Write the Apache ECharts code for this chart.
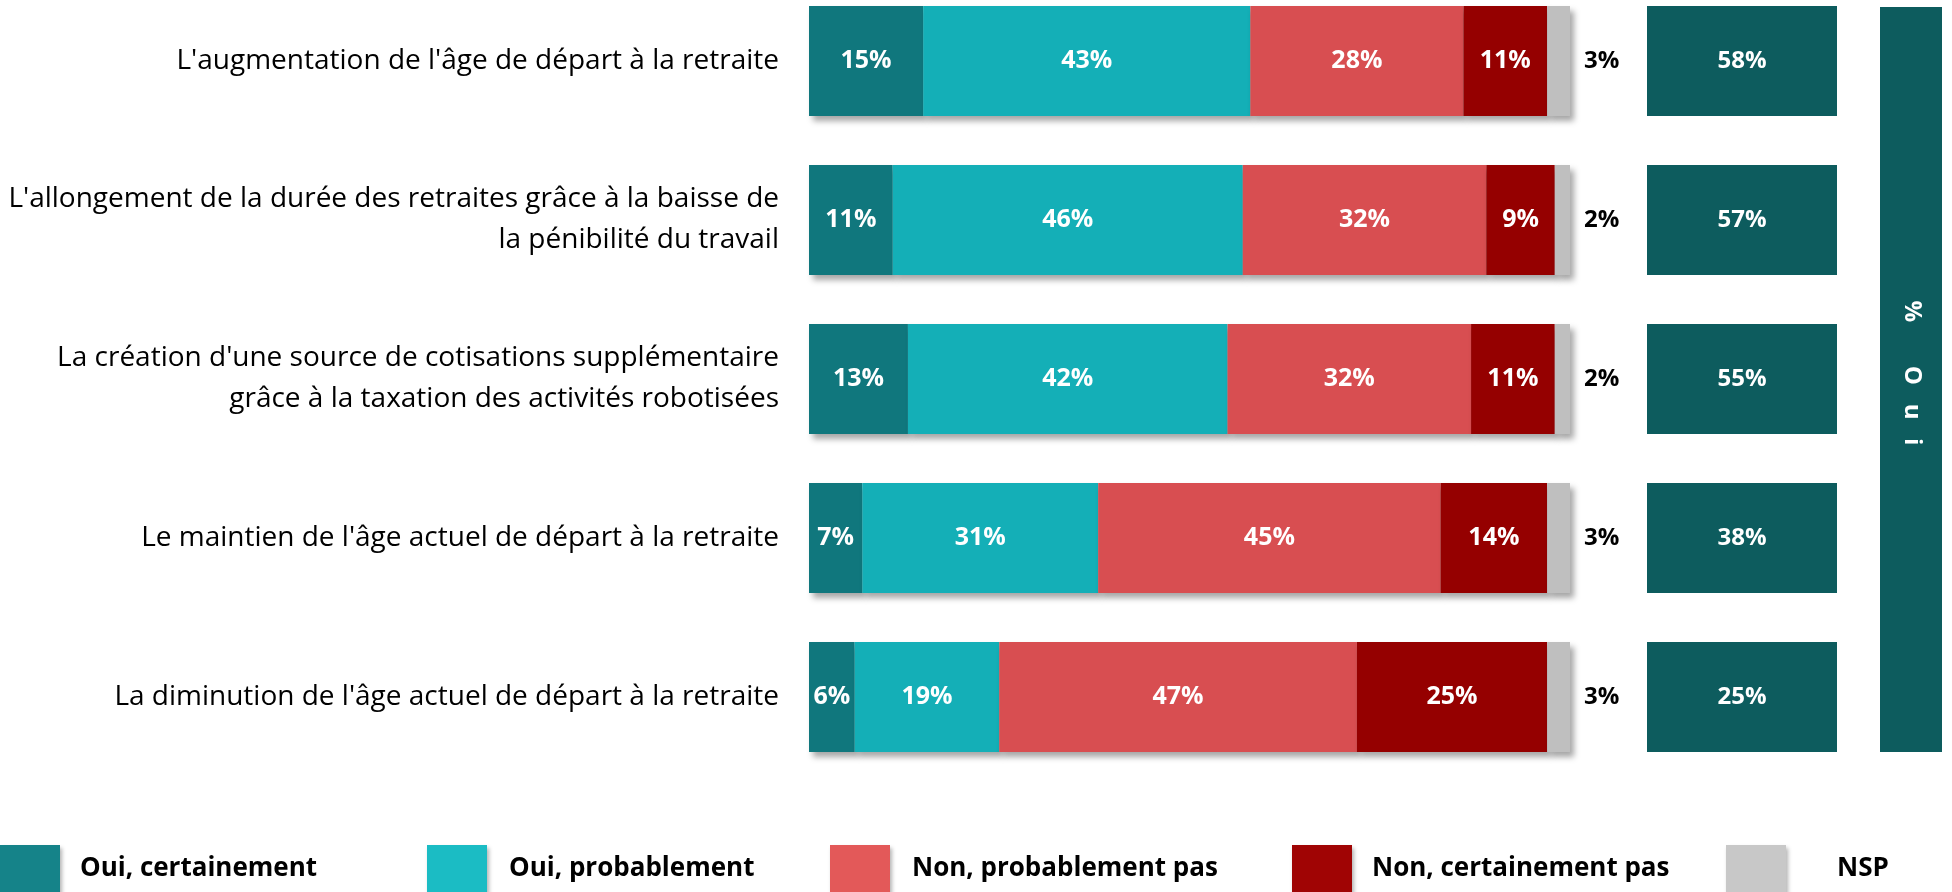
<!DOCTYPE html>
<html>
<head>
<meta charset="utf-8">
<title>Retraites</title>
<script src="https://cdn.jsdelivr.net/npm/echarts@6/dist/echarts.min.js"></script>
<style>
  html, body { margin: 0; padding: 0; background: #fff; }
  #chart { width: 1952px; height: 892px; }
</style>
</head>
<body>
<div id="chart"></div>
<script>
const categories = [
  "L'augmentation de l'âge de départ à la retraite",
  "L'allongement de la durée des retraites grâce à la baisse de\nla pénibilité du travail",
  "La création d'une source de cotisations supplémentaire\ngrâce à la taxation des activités robotisées",
  "Le maintien de l'âge actuel de départ à la retraite",
  "La diminution de l'âge actuel de départ à la retraite"
]

const ouiCertainement = [15, 11, 13, 7, 6]
const ouiProbablement = [43, 46, 42, 31, 19]
const nonProbablement = [28, 32, 32, 45, 47]
const nonCertainement = [11, 9, 11, 14, 25]
const nsp = [3, 2, 2, 3, 3]
const ouiTotal = [58, 57, 55, 38, 25]

const seriesNames = ['Oui, certainement', 'Oui, probablement', 'Non, probablement pas', 'Non, certainement pas', 'NSP']
const barColors = ['#10777d', '#14afb7', '#d84e51', '#950000', '#bfbfbf']
const legendColors = ['#158389', '#1bbcc4', '#e35959', '#a00404', '#c8c8c8']
const legendLeft = [0, 427, 830, 1292, 1726]
const legendTextPad = [15, 17, 17, 15, 46]

const FONT = 'Open Sans'
const dark = '#0d5c5e'

const chart = echarts.init(document.getElementById('chart'))

const barShadow = {
  shadowBlur: 6,
  shadowColor: 'rgba(0,0,0,0.35)',
  shadowOffsetX: 4,
  shadowOffsetY: 5
}

const stackSeries = [ouiCertainement, ouiProbablement, nonProbablement, nonCertainement, nsp].map((values, i) => {
  const isNsp = i === 4
  return {
    name: seriesNames[i],
    type: 'bar',
    stack: 'total',
    xAxisIndex: 0,
    yAxisIndex: 0,
    barWidth: 110,
    data: values,
    itemStyle: Object.assign({ color: barColors[i] }, barShadow),
    label: isNsp ? {
      show: true,
      position: 'right',
      distance: 14,
      formatter: '{c}%',
      color: '#000',
      fontFamily: FONT,
      fontWeight: 'bold',
      fontSize: 24
    } : {
      show: true,
      position: 'inside',
      formatter: '{c}%',
      color: '#fff',
      fontFamily: FONT,
      fontWeight: 'bold',
      fontSize: 25
    },
    emphasis: { disabled: true },
    animation: false
  }
})

const legends = seriesNames.map((name, i) => ({
  data: [{ name: name, itemStyle: { color: legendColors[i] } }],
  left: legendLeft[i],
  top: 845,
  padding: 0,
  itemWidth: 60,
  itemHeight: 48,
  icon: 'rect',
  itemStyle: { shadowBlur: 4, shadowColor: 'rgba(0,0,0,0.3)', shadowOffsetX: 2, shadowOffsetY: 3 },
  textStyle: {
    color: '#000',
    fontFamily: FONT,
    fontWeight: 'bold',
    fontSize: 26,
    padding: [0, 0, 0, legendTextPad[i]]
  }
}))

chart.setOption({
  backgroundColor: '#fff',
  animation: false,
  legend: legends,
  grid: [
    { left: 809, right: 382, top: 61, bottom: 195 },
    { left: 1647, right: 115, top: 61, bottom: 195 }
  ],
  xAxis: [
    { type: 'value', gridIndex: 0, min: 0, max: 100, show: false },
    { type: 'value', gridIndex: 1, min: 0, max: 100, show: false }
  ],
  yAxis: [
    {
      type: 'category',
      gridIndex: 0,
      data: categories,
      inverse: true,
      boundaryGap: false,
      axisLine: { show: false },
      axisTick: { show: false },
      splitLine: { show: false },
      axisLabel: {
        margin: 30,
        color: '#000',
        fontFamily: FONT,
        fontSize: 28,
        lineHeight: 41
      }
    },
    {
      type: 'category',
      gridIndex: 1,
      data: categories,
      inverse: true,
      boundaryGap: false,
      show: false
    }
  ],
  series: stackSeries.concat([{
    name: 'Oui total',
    type: 'bar',
    xAxisIndex: 1,
    yAxisIndex: 1,
    barWidth: 110,
    data: ouiTotal,
    itemStyle: { color: 'rgba(0,0,0,0)' },
    showBackground: true,
    backgroundStyle: { color: dark },
    label: {
      show: true,
      position: [95, 55],
      align: 'center',
      verticalAlign: 'middle',
      formatter: '{c}%',
      color: '#fff',
      fontFamily: FONT,
      fontWeight: 'bold',
      fontSize: 24
    },
    emphasis: { disabled: true },
    animation: false
  }]),
  graphic: [
    {
      type: 'rect',
      shape: { x: 1880, y: 7, width: 62, height: 745 },
      style: { fill: dark },
      silent: true
    },
    {
      type: 'text',
      x: 1912,
      y: 373,
      rotation: -Math.PI / 2,
      style: {
        text: '%       O   u   i',
        fill: '#fff',
        font: 'bold 24px "Open Sans"',
        align: 'center',
        verticalAlign: 'middle'
      },
      silent: true
    }
  ]
})

window.addEventListener('resize', () => {
  chart.resize()
})
</script>
</body>
</html>
